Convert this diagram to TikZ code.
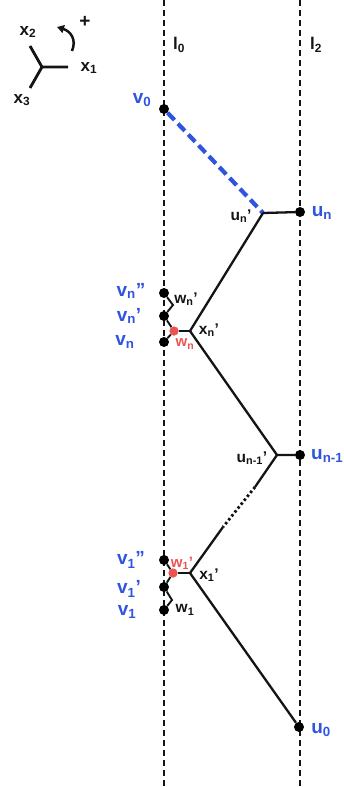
\documentclass[tikz,border=0pt]{standalone}
\usepackage{fontspec}
\setmainfont{Liberation Sans}
\usetikzlibrary{arrows.meta,calc}
\definecolor{vblue}{RGB}{48,84,222}
\definecolor{wred}{RGB}{236,84,84}
\definecolor{ink}{RGB}{20,20,20}
\tikzset{
  guide/.style={line width=2.1pt, dash pattern=on 6pt off 4pt, ink},
  edge/.style={line width=2.3pt, ink},
  pt/.style={circle, fill=black, inner sep=0pt, minimum size=10pt},
  wpt/.style={circle, fill=wred, inner sep=0pt, minimum size=9pt},
  vlab/.style={text=vblue, font=\fontsize{19}{19}\selectfont\bfseries, inner sep=0pt},
  blab/.style={text=ink, font=\fontsize{15.5}{15.5}\selectfont\bfseries, inner sep=0pt},
  rlab/.style={text=wred, font=\fontsize{15}{15}\selectfont\bfseries, inner sep=0pt}
}
\begin{document}
\begin{tikzpicture}[x=1pt,y=-1pt]
            \useasboundingbox (0,0) rectangle (343,787);
            % Draw the two lines l0, l2
            \coordinate (l0top) at (164,0);
            \coordinate (l0bot) at (164,787);
            \coordinate (l2top) at (300,0);
            \coordinate (l2bot) at (300,787);
            \draw[guide] (l0top) -- (l0bot);
            \draw[guide] (l2top) -- (l2bot);
            \node[blab, font=\fontsize{17}{17}\selectfont\bfseries] (l0lab) at (179,45) {l\textsubscript{0}};
            \node[blab, font=\fontsize{17}{17}\selectfont\bfseries] (l2lab) at (316,45) {l\textsubscript{2}};
            % Axes
            \coordinate (ax) at (42,67);
            \coordinate (ax1) at (68,67);
            \coordinate (ax2) at (30,46);
            \coordinate (ax3) at (30,88);
            \draw[edge, line width=2.8pt] (ax1) -- (ax) -- (ax2);
            \draw[edge, line width=2.8pt] (ax) -- (ax3);
            \node[blab, font=\fontsize{17}{17}\selectfont\bfseries] (x1lab) at (89,68) {x\textsubscript{1}};
            \node[blab, font=\fontsize{17}{17}\selectfont\bfseries] (x2lab) at (28,32) {x\textsubscript{2}};
            \node[blab, font=\fontsize{17}{17}\selectfont\bfseries] (x3lab) at (22,100) {x\textsubscript{3}};
            \coordinate (rotA) at (72,51);
            \coordinate (rotB) at (57,27);
            \draw[edge, line width=2.5pt, -{Triangle[length=7pt,width=8pt]}] (rotA) .. controls (77,39) and (70,31) .. (rotB);
            \node[blab, font=\fontsize{19}{19}\selectfont\bfseries] (plus) at (85,22) {+};
            %nodes
            \node[pt] (v0) at (164,109) {};
            \node[pt] (un) at (300,212) {};
            \coordinate (unp) at (263,213);
            \coordinate (xnp) at (190,331);
            \node[pt] (vnpp) at (164,293) {};
            \coordinate (zign) at (173,305);
            \node[pt] (vnp) at (164,316) {};
            \node[pt] (vn) at (164,342) {};
            \node[pt] (un1) at (300,455) {};
            \coordinate (un1p) at (277,455);
            \coordinate (gapa) at (255,487);
            \coordinate (gapb) at (223,527);
            \coordinate (x1p) at (190,573);
            \node[pt] (v1pp) at (164,560) {};
            \node[pt] (v1p) at (164,587) {};
            \coordinate (zig1) at (172,600);
            \node[pt] (v1) at (164,610) {};
            \node[pt] (u0) at (299,727) {};
            %elements
            \draw[vblue, line width=4.2pt, dash pattern=on 10pt off 5pt] (v0) -- (unp);
            \draw[edge] (unp) -- (un);
            \draw[edge] (unp) -- (xnp) -- (un1p) -- (un1);
            \draw[edge] (un1p) -- (gapa);
            \draw[ink, line width=2.8pt, dash pattern=on 2.5pt off 2.5pt] (gapa) -- (gapb);
            \draw[edge] (gapb) -- (x1p) -- (u0);
            \draw[edge, line width=1.9pt] (vnpp) -- (zign) -- (vnp);
            \draw[edge, line width=1.9pt] (v1p) -- (zig1) -- (v1);
            \node[wpt] (wn) at (174,331) {};
            \node[wpt] (w1p) at (173,573) {};
            \draw[edge, line width=1.9pt] (vnp) -- (wn) -- (vn);
            \draw[edge] (wn) -- (xnp);
            \draw[edge, line width=1.9pt] (v1pp) -- (w1p) -- (v1p);
            \draw[edge] (w1p) -- (x1p);
            \node[wpt] at (wn) {};
            \node[wpt] at (w1p) {};
            %labels
            \node[vlab] (v0lab) at (142,100) {v\textsubscript{0}};
            \node[blab] (unplab) at (241,216) {u\textsubscript{n}'};
            \node[vlab] (unlab) at (322,213) {u\textsubscript{n}};
            \node[blab] (wnplab) at (186,299) {w\textsubscript{n}'};
            \node[blab] (xnplab) at (209,330) {x\textsubscript{n}'};
            \node[vlab] (vnpplab) at (131,291) {v\textsubscript{n}"};
            \node[vlab] (vnplab) at (129,316) {v\textsubscript{n}'};
            \node[vlab] (vnlab) at (125,342) {v\textsubscript{n}};
            \node[rlab] (wnlab) at (185,344) {w\textsubscript{n}};
            \node[blab] (un1plab) at (252,458) {u\textsubscript{n-1}'};
            \node[vlab, anchor=west] (un1lab) at (311,456) {u\textsubscript{n-1}};
            \node[vlab] (v1pplab) at (131,560) {v\textsubscript{1}"};
            \node[vlab] (v1plab) at (129,589) {v\textsubscript{1}'};
            \node[vlab] (v1lab) at (127,612) {v\textsubscript{1}};
            \node[rlab] (w1plab) at (182,563) {w\textsubscript{1}'};
            \node[blab] (x1plab) at (209,575) {x\textsubscript{1}'};
            \node[blab] (w1lab) at (185,610) {w\textsubscript{1}};
            \node[vlab] (u0lab) at (321,730) {u\textsubscript{0}};
        \end{tikzpicture}
\end{document}
